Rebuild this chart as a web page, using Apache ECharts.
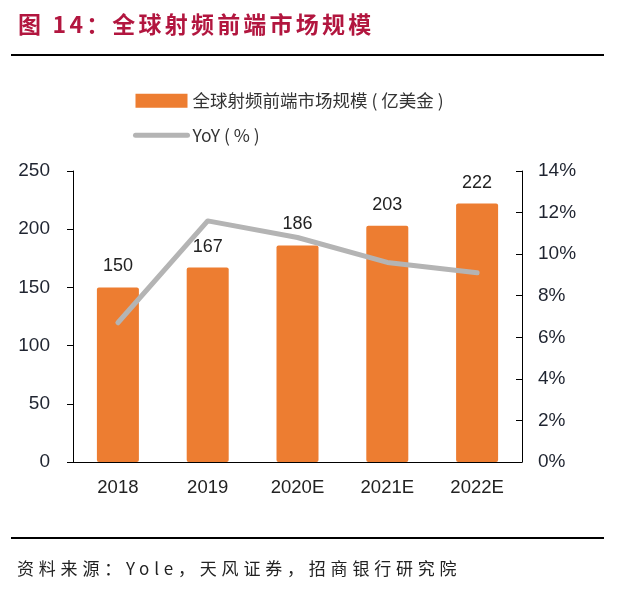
<!DOCTYPE html>
<html>
<head>
<meta charset="utf-8">
<script src="https://cdn.jsdelivr.net/npm/echarts@6/dist/echarts.min.js"></script>
<style>
  html, body { margin: 0; padding: 0; background: #fff; }
  #wrap { position: relative; width: 631px; height: 598px; overflow: hidden; }
  #main { position: absolute; left: 0; top: 0; width: 631px; height: 598px; }
  .title { position: absolute; left: 18px; top: 8px; font-family: "Noto Sans CJK SC"; font-weight: bold;
           font-size: 23px; line-height: 30px; color: #b2163f; letter-spacing: 3.2px; white-space: nowrap; }
  .rule { position: absolute; left: 11px; width: 593px; height: 2px; background: #000; }
  .source { position: absolute; left: 17px; top: 556px; font-family: "Noto Sans CJK SC"; font-size: 17px;
            line-height: 24px; color: #222; letter-spacing: 4.8px; white-space: nowrap; }
</style>
</head>
<body>
<div id="wrap">
  <div id="main"></div>
  <div class="title">图 14：全球射频前端市场规模</div>
  <div class="rule" style="top:54px"></div>
  <div class="rule" style="top:537px"></div>
  <div class="source">资料来源：Yole，天风证券，招商银行研究院</div>
</div>
<script>
// 年份
var categories = ['2018', '2019', '2020E', '2021E', '2022E'];
// 全球射频前端市场规模（亿美金）
var marketSize = [150, 167, 186, 203, 222];
// YoY（%）
var yoy = [6.7, 11.6, 10.8, 9.6, 9.1];
var leftTicks = [0, 50, 100, 150, 200, 250];
var rightTicks = [0, 2, 4, 6, 8, 10, 12, 14];

var barName = '全球射频前端市场规模 ( 亿美金 )';
var lineName = 'YoY ( % )';

var myChart = echarts.init(document.getElementById('main'));
var option = {
    animation: false,
    textStyle: { fontFamily: 'Liberation Sans, Arial, sans-serif' },
    legend: {
        orient: 'vertical',
        left: 133,
        top: 92,
        padding: 0,
        itemWidth: 52,
        itemHeight: 14,
        itemGap: 17,
        textStyle: { fontFamily: 'Noto Sans CJK SC', fontSize: 17.5, color: '#333', lineHeight: 14 },
        data: [
            { name: barName, icon: 'rect' },
            // 图例只画粗灰线，不要圆点
            { name: lineName, itemStyle: { opacity: 0 }, lineStyle: { width: 5, color: '#b4b4b4' } }
        ]
    },
    grid: { left: 73, right: 109, top: 171, bottom: 136 },
    xAxis: {
        type: 'category',
        data: categories,
        axisLine: { lineStyle: { color: '#000', width: 1 } },
        axisTick: { inside: true, length: 8, lineStyle: { color: '#000' } },
        axisLabel: { fontSize: 18.5, color: '#222', margin: 16 }
    },
    yAxis: [{
        type: 'value',
        min: leftTicks[0],
        max: leftTicks[leftTicks.length - 1],
        interval: 50,
        splitLine: { show: false },
        axisLine: { show: true, lineStyle: { color: '#000' } },
        axisTick: { show: true, length: 6, lineStyle: { color: '#000' } },
        axisLabel: { fontSize: 19, color: '#1f2430', margin: 23 }
    }, {
        type: 'value',
        position: 'right',
        min: rightTicks[0],
        max: rightTicks[rightTicks.length - 1],
        interval: 2,
        splitLine: { show: false },
        axisLine: { show: true, lineStyle: { color: '#000' } },
        axisTick: { show: true, inside: true, length: 6, lineStyle: { color: '#000' } },
        axisLabel: { fontSize: 19, color: '#1f2430', margin: 16, formatter: '{value}%' }
    }],
    series: [{
        name: barName,
        type: 'bar',
        data: marketSize,
        barWidth: 42,
        itemStyle: { color: '#ed7d31', borderRadius: 2 },
        label: { show: true, position: 'top', distance: 12, fontSize: 18, color: '#222' }
    }, {
        name: lineName,
        type: 'line',
        yAxisIndex: 1,
        data: yoy,
        symbol: 'none',
        z: 5,
        lineStyle: { color: '#b4b4b4', width: 5, cap: 'round', join: 'round' },
        itemStyle: { color: '#b4b4b4' }
    }]
};
myChart.setOption(option);
</script>
</body>
</html>
